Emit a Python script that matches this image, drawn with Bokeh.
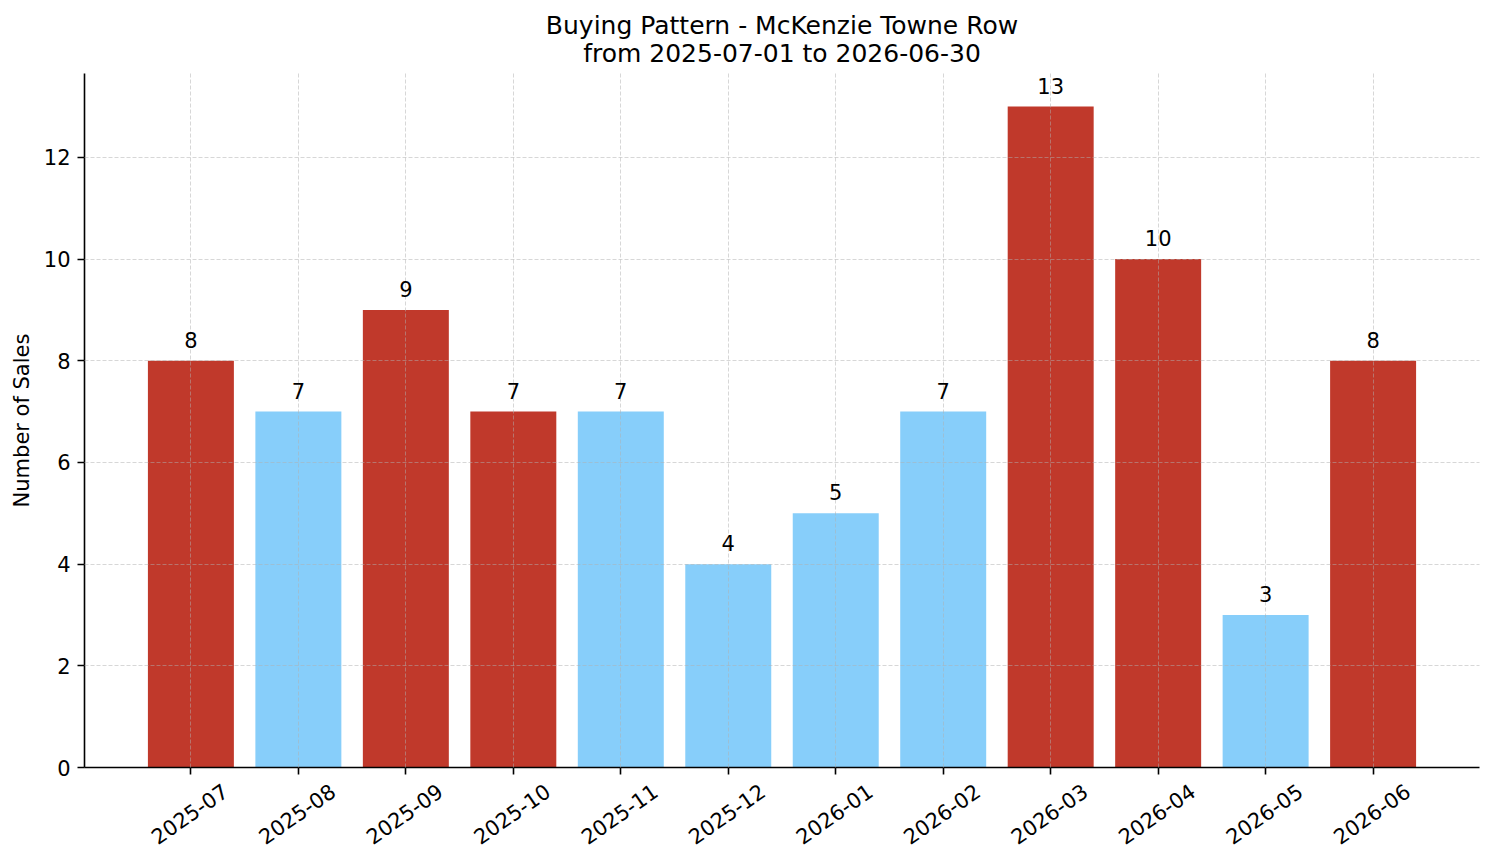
import math
from bokeh.plotting import figure
from bokeh.models import ColumnDataSource, FixedTicker, Title, LabelSet, LinearAxis, Range1d
from bokeh.core.properties import value
from bokeh.embed import file_html
from bokeh.resources import INLINE

months = ["2025-07", "2025-08", "2025-09", "2025-10", "2025-11", "2025-12",
          "2026-01", "2026-02", "2026-03", "2026-04", "2026-05", "2026-06"]
sales = [8, 7, 9, 7, 7, 4, 5, 7, 13, 10, 3, 8]
highlight = [True, False, True, True, False, False, False, False, True, True, False, True]

RED = "#c0392b"
BLUE = "#87cefa"
FONT = "DejaVu Sans"

xs = list(range(len(months)))
colors = [RED if h else BLUE for h in highlight]
src = ColumnDataSource(dict(x=xs, y=sales, color=colors, label=[str(v) for v in sales]))

X0, X1 = -0.99, 11.99
SHIFT = 0.32  # rotated labels centred under ticks
p = figure(width=1494, height=863, x_range=(X0, X1), y_range=(0, 13.65),
           output_backend="svg", toolbar_location=None,
           min_border_left=84, min_border_right=15, min_border_top=73, min_border_bottom=96)
p.title = None
p.outline_line_color = None
p.background_fill_color = "white"
p.border_fill_color = "white"
p.extra_x_ranges = {"labels": Range1d(X0 - SHIFT, X1 - SHIFT)}

p.vbar(x="x", top="y", width=0.8, bottom=0, color="color", source=src, line_color=None)

values = LabelSet(x="x", y="y", text="label", source=src, text_align="center",
                  text_baseline="alphabetic", y_offset=13, text_font=value(FONT),
                  text_font_size="21px", text_color="black")
p.add_layout(values)

p.add_layout(Title(text="from 2025-07-01 to 2026-06-30", align="center", text_font=FONT,
                   text_font_size="25px", text_font_style="normal", text_color="black",
                   text_line_height=1.0, standoff=11), "above")
p.add_layout(Title(text="Buying Pattern - McKenzie Towne Row", align="center", text_font=FONT,
                   text_font_size="25px", text_font_style="normal", text_color="black",
                   text_line_height=1.0, standoff=-16), "above")

for ax in (p.xaxis[0], p.yaxis[0]):
    ax.axis_line_color = "black"
    ax.axis_line_width = 1.6
    ax.major_tick_line_color = "black"
    ax.major_tick_line_width = 1.6
    ax.major_tick_in = 0
    ax.major_tick_out = 7
    ax.minor_tick_line_color = None
    ax.major_label_text_font = FONT
    ax.major_label_text_font_size = "21px"
    ax.major_label_text_color = "black"
    ax.major_label_standoff = 7

p.xaxis.ticker = FixedTicker(ticks=xs)
p.xaxis.major_label_overrides = {i: "" for i in xs}
p.xaxis.major_label_standoff = 0

lab_axis = LinearAxis(x_range_name="labels", ticker=FixedTicker(ticks=xs),
                      major_label_overrides={i: m for i, m in enumerate(months)},
                      major_label_orientation=math.radians(35),
                      major_label_text_font=FONT, major_label_text_font_size="21px",
                      major_label_text_color="black", major_label_standoff=14,
                      axis_line_color=None, major_tick_line_color=None,
                      minor_tick_line_color=None, major_tick_in=0, major_tick_out=0)
p.add_layout(lab_axis, "below")

p.yaxis.ticker = FixedTicker(ticks=[0, 2, 4, 6, 8, 10, 12])
p.yaxis.axis_label = "Number of Sales"
p.yaxis.axis_label_text_font = FONT
p.yaxis.axis_label_text_font_size = "21px"
p.yaxis.axis_label_text_font_style = "normal"
p.yaxis.axis_label_text_color = "black"
p.yaxis.axis_label_standoff = 7

for g in (p.xgrid[0], p.ygrid[0]):
    g.grid_line_color = "#b0b0b0"
    g.grid_line_alpha = 0.5
    g.grid_line_dash = "4 2"
    g.grid_line_width = 1
    g.level = "guide"
p.xgrid.ticker = FixedTicker(ticks=xs)
p.ygrid.ticker = FixedTicker(ticks=[0, 2, 4, 6, 8, 10, 12])

open("out.html", "w").write(file_html(p, INLINE))
